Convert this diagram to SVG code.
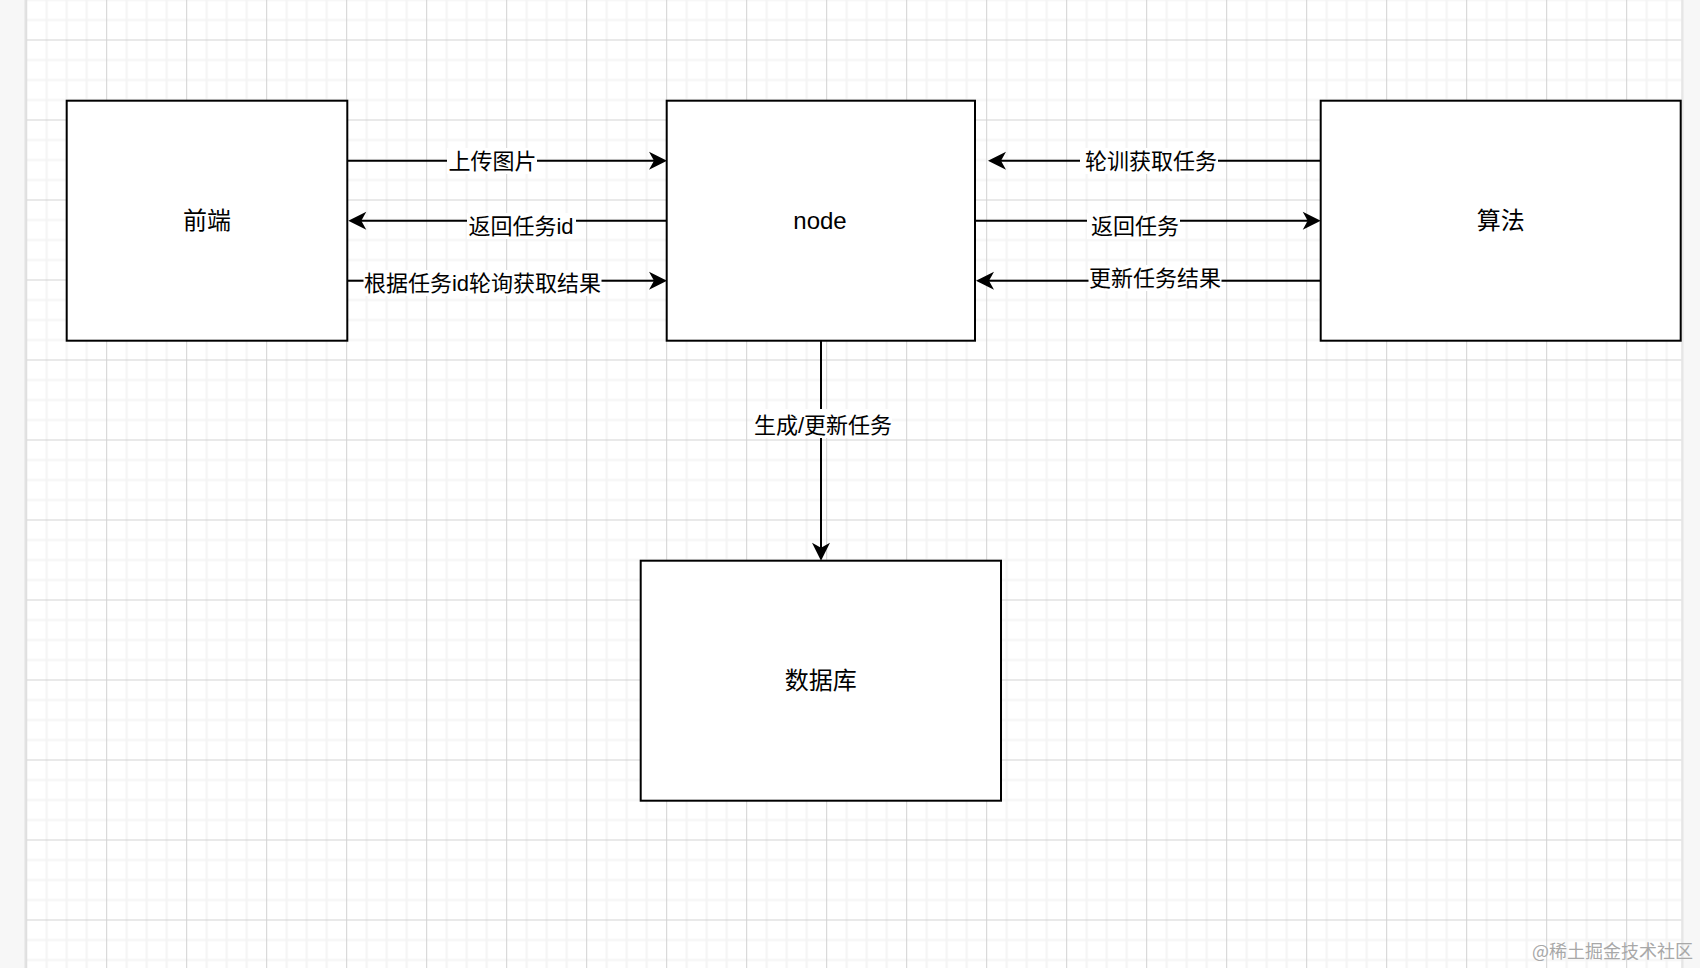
<svg xmlns="http://www.w3.org/2000/svg" width="1700" height="968" viewBox="0 0 1700 968">
  <style>
    .box { fill: #ffffff; stroke: #000000; stroke-width: 2; }
    .boxlabel { font-family: "Liberation Sans", "Noto Sans CJK SC", sans-serif; font-size: 24px; fill: #000000; text-anchor: middle; }
    .edge { fill: none; stroke: #000000; stroke-width: 2; marker-end: url(#arrow); }
    .elabel { font-family: "Liberation Sans", "Noto Sans CJK SC", sans-serif; font-size: 22px; fill: #000000; text-anchor: middle; }
    .lblbg { fill: #ffffff; }
    .wm { font-family: "Noto Sans CJK SC", sans-serif; font-size: 18px; fill: #a8a8a8; text-anchor: end; }
  </style>
  <defs>
    <pattern id="grid" patternUnits="userSpaceOnUse" x="26.17" y="39.5" width="80" height="80">
      <rect x="0" y="0" width="80" height="80" fill="#ffffff"/>
      <rect x="19.5" y="0" width="2" height="80" fill="#f4f4f4"/>
      <rect x="39.5" y="0" width="2" height="80" fill="#f4f4f4"/>
      <rect x="59.5" y="0" width="2" height="80" fill="#f4f4f4"/>
      <rect x="0" y="19.5" width="80" height="2" fill="#f4f4f4"/>
      <rect x="0" y="39.5" width="80" height="2" fill="#f4f4f4"/>
      <rect x="0" y="59.5" width="80" height="2" fill="#f4f4f4"/>
      <rect x="0" y="0" width="1" height="80" fill="#d2d2d2"/>
      <rect x="0" y="0" width="80" height="1" fill="#d2d2d2"/>
    </pattern>
    <marker id="arrow" viewBox="-20 -10 22 20" refX="-10" refY="0" markerWidth="22" markerHeight="20" markerUnits="userSpaceOnUse" orient="auto">
      <path d="M0,0 L-18,-9 L-13,0 L-18,9 Z" fill="#000000"/>
    </marker>
  </defs>

  <!-- page background -->
  <rect x="0" y="0" width="1700" height="968" fill="#f7f7f7"/>
  <rect x="24.5" y="0" width="2.5" height="968" fill="#e2e2e2"/>
  <rect x="1681" y="0" width="2.5" height="968" fill="#e6e6e6"/>
  <rect x="26.67" y="0" width="1654.5" height="968" fill="url(#grid)"/>

  <g id="connectors">
    <path class="edge" d="M347.3,160.7 H657"/>
    <path class="edge" d="M666.7,220.7 H358.3"/>
    <path class="edge" d="M347.3,280.7 H657"/>
    <path class="edge" d="M1320.7,160.7 H998"/>
    <path class="edge" d="M975,220.7 H1310.7"/>
    <path class="edge" d="M1320.7,280.7 H986"/>
    <path class="edge" d="M821,340.7 V550.7"/>

    <rect class="lblbg" x="447" y="148" width="90" height="26"/>
    <text class="elabel" x="492.5" y="169">上传图片</text>
    <rect class="lblbg" x="467" y="213" width="109" height="26"/>
    <text class="elabel" x="521" y="234">返回任务id</text>
    <rect class="lblbg" x="363.5" y="270" width="238" height="26"/>
    <text class="elabel" x="482.5" y="291">根据任务id轮询获取结果</text>

    <rect class="lblbg" x="1080" y="148" width="138" height="26"/>
    <text class="elabel" x="1151" y="169">轮训获取任务</text>
    <rect class="lblbg" x="1087" y="213" width="93" height="26"/>
    <text class="elabel" x="1135" y="234">返回任务</text>
    <rect class="lblbg" x="1088.5" y="265" width="133" height="26"/>
    <text class="elabel" x="1155" y="286">更新任务结果</text>

    <rect class="lblbg" x="753" y="409" width="139" height="29"/>
    <text class="elabel" x="823" y="433">生成/更新任务</text>
  </g>

  <g id="node-frontend">
    <rect class="box" x="66.7" y="100.7" width="280.6" height="240"/>
    <text class="boxlabel" x="207" y="229">前端</text>
  </g>
  <g id="node-node">
    <rect class="box" x="666.7" y="100.7" width="308.3" height="240"/>
    <text class="boxlabel" x="820" y="229">node</text>
  </g>
  <g id="node-algorithm">
    <rect class="box" x="1320.7" y="100.7" width="360" height="240"/>
    <text class="boxlabel" x="1500.7" y="229">算法</text>
  </g>
  <g id="node-database">
    <rect class="box" x="640.7" y="560.7" width="360.3" height="240"/>
    <text class="boxlabel" x="820.8" y="689">数据库</text>
  </g>

  <text class="wm" x="1693" y="958">@稀土掘金技术社区</text>
</svg>
